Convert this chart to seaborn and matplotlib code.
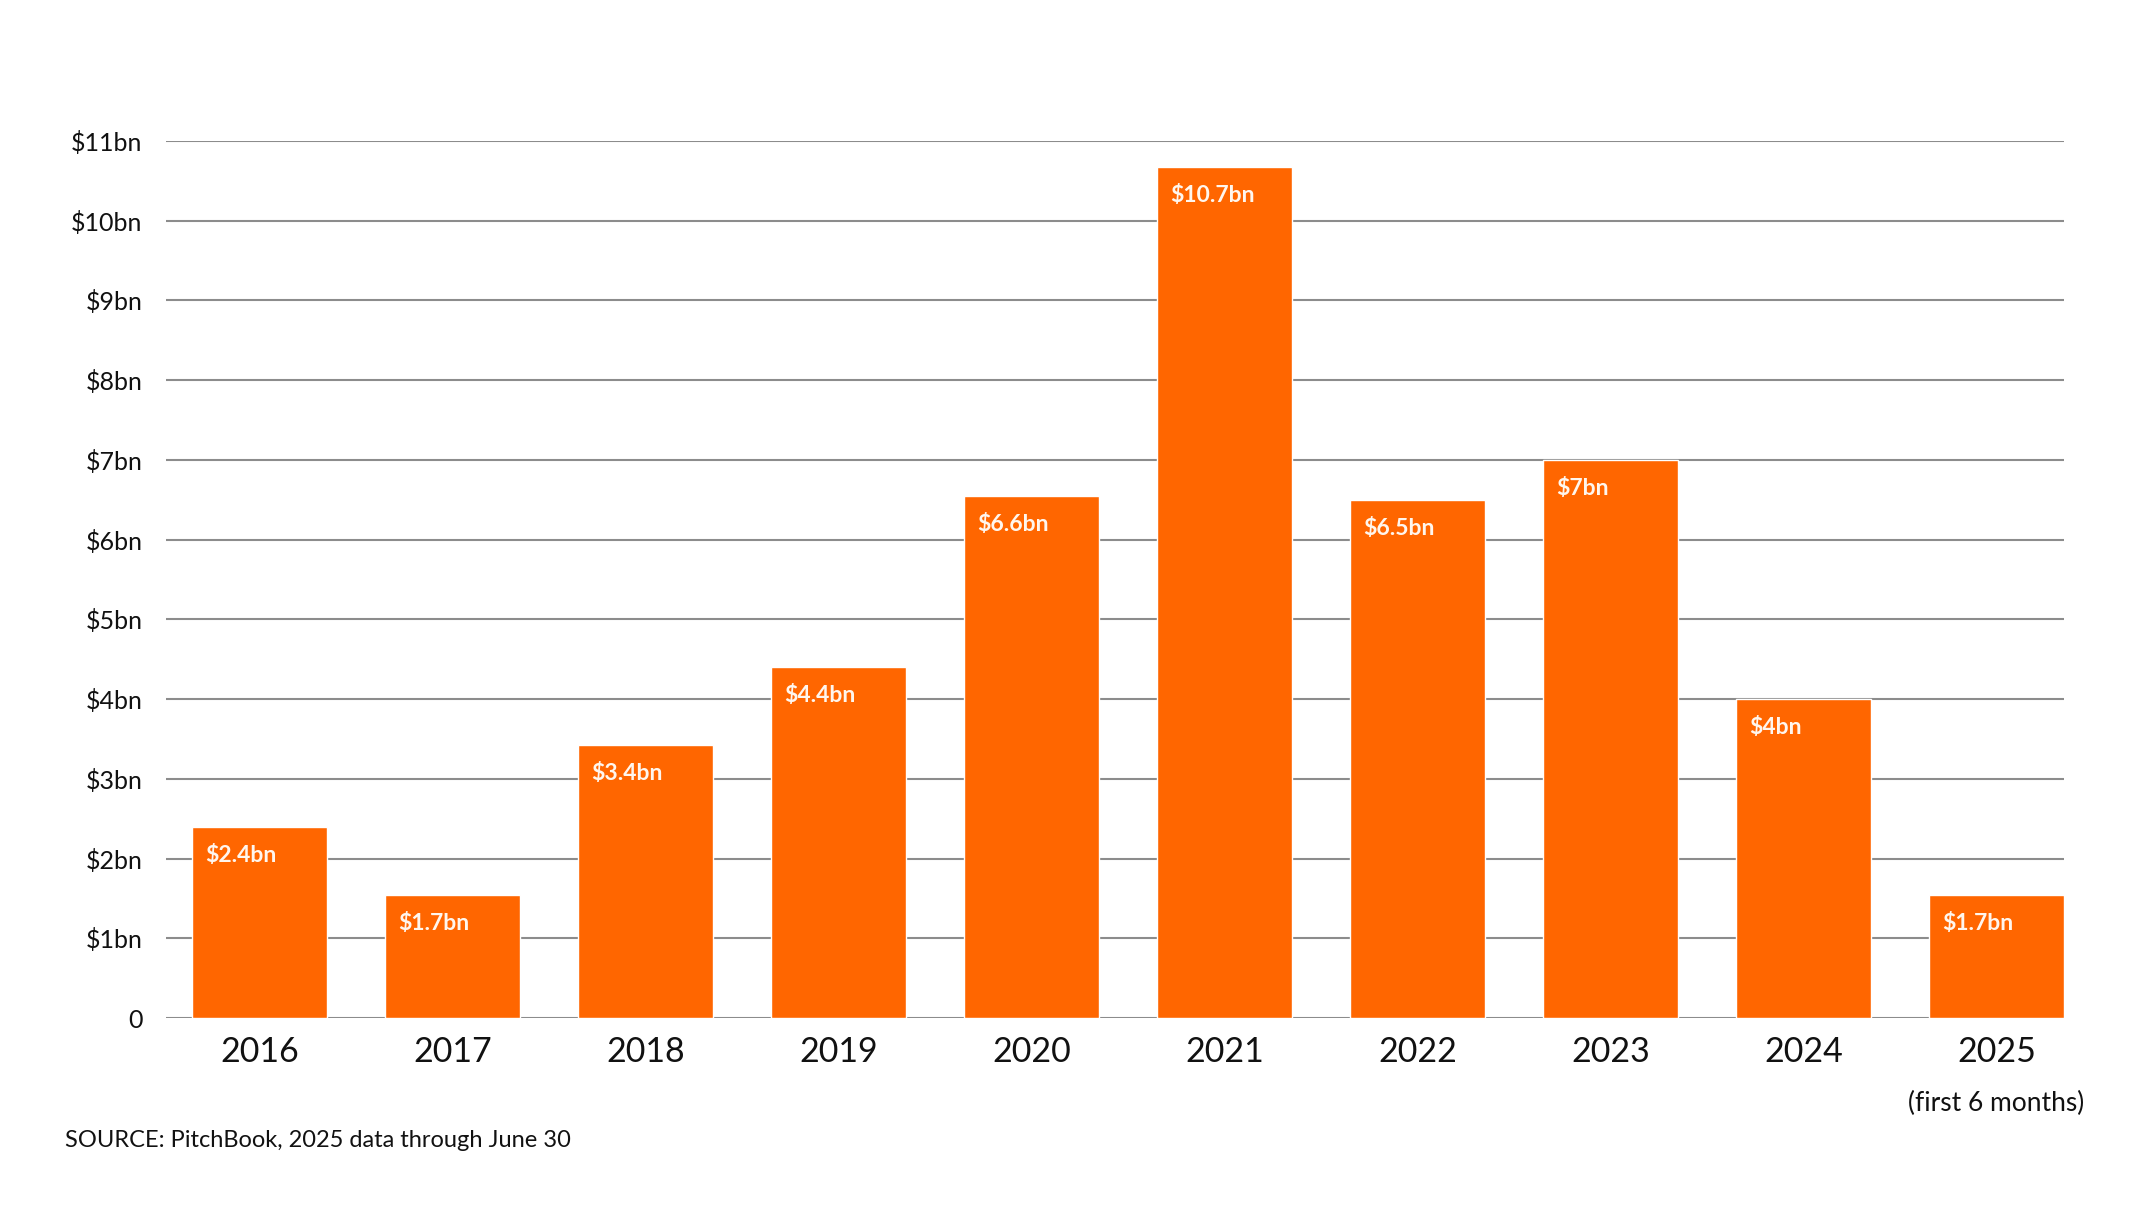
import matplotlib
matplotlib.use("Agg")
from matplotlib import pyplot as plt
import seaborn as sns

# data
years = ["2016", "2017", "2018", "2019", "2020", "2021", "2022", "2023", "2024", "2025"]
funding_bn = [2.40, 1.54, 3.42, 4.40, 6.55, 10.68, 6.50, 7.00, 4.00, 1.54]
bar_labels = ["$2.4bn", "$1.7bn", "$3.4bn", "$4.4bn", "$6.6bn",
              "$10.7bn", "$6.5bn", "$7bn", "$4bn", "$1.7bn"]
y_ticks = list(range(0, 12))
y_tick_labels = ["0"] + [f"${v}bn" for v in range(1, 12)]
note_2025 = "(first 6 months)"
source_text = "SOURCE: PitchBook, 2025 data through June 30"

ORANGE = "#FF6600"
GRID = "#8c8c8c"

sns.set_theme(style="white")
plt.rcParams["font.family"] = ["Lato", "DejaVu Sans"]

fig = plt.figure(figsize=(21.5, 12.1), dpi=100)
ax = fig.add_axes([166 / 2150, 1 - 1018 / 1210, (2064 - 166) / 2150, (1018 - 141) / 1210])

# gridlines behind the bars
for v in y_ticks:
    ax.axhline(v, color=GRID, linewidth=1.5, zorder=0)

sns.barplot(x=years, y=funding_bn, color=ORANGE, saturation=1, width=0.7,
            ax=ax, zorder=2)

ax.set_xlim(-0.485, 9.35)
ax.set_ylim(0, 11)
ax.set_yticks(y_ticks)
ax.set_yticklabels(y_tick_labels)
ax.set_xlabel("")
ax.set_ylabel("")
ax.grid(False)
for s in ax.spines.values():
    s.set_visible(False)

ax.tick_params(axis="y", length=0, pad=17, labelsize=18, labelcolor="#111111")
ax.tick_params(axis="x", length=0, pad=13, labelsize=24.5, labelcolor="#111111")

for i, (val, lab) in enumerate(zip(funding_bn, bar_labels)):
    ax.annotate(lab, xy=(i - 0.35, val), xytext=(13, -18), textcoords="offset pixels",
                ha="left", va="top", fontsize=16.5, fontweight="bold", color="#FFF6EE",
                zorder=3)

ax.annotate(note_2025, xy=(len(years) - 1, 0), xytext=(0, -85), textcoords="offset pixels",
            ha="center", va="center", fontsize=19, color="#111111", annotation_clip=False)

fig.text(65 / 2150, 1 - 1147 / 1210, source_text, ha="left", va="baseline",
         fontsize=17, color="#111111")

fig.savefig("out.png", dpi=100, facecolor="white")
